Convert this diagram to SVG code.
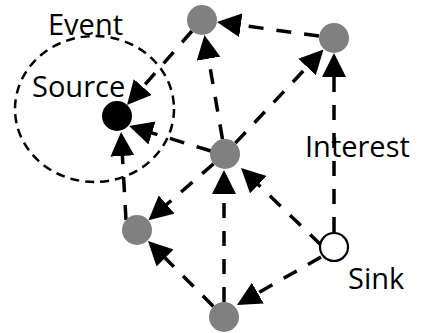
<svg xmlns="http://www.w3.org/2000/svg" width="425" height="333" viewBox="0 0 425 333">
  <style>
    .edge { fill: none; stroke: #000; stroke-width: 3.5; stroke-dasharray: 15 13; marker-end: url(#head); }
    .relay { fill: #808080; }
    .source { fill: #000; }
    .sink { fill: #fff; stroke: #000; stroke-width: 2.2; }
    .region { fill: none; stroke: #000; stroke-width: 2.5; stroke-dasharray: 9 6; }
    .label { font-family: "Open Sans", "Noto Sans", sans-serif; font-size: 29px; fill: #000; }
  </style>
  <defs>
    <marker id="head" viewBox="0 0 24 24" refX="2" refY="12" markerWidth="24" markerHeight="24" markerUnits="userSpaceOnUse" orient="auto">
      <path d="M0,0 L24,12 L0,24 Z" fill="#000"/>
    </marker>
  </defs>

  <!-- event region around the source -->
  <g id="event-region">
    <ellipse class="region" cx="94.5" cy="109" rx="79.5" ry="73"/>
    <text class="label" x="48" y="35">Event</text>
  </g>

  <!-- dashed connectors, arrowhead at the receiving node -->
  <g id="connectors">
    <line class="edge" x1="192" y1="31" x2="141.5" y2="88.5"/>
    <line class="edge" x1="319" y1="36" x2="238.8" y2="25"/>
    <line class="edge" x1="222.5" y1="139.2" x2="208.2" y2="56.7"/>
    <line class="edge" x1="235.3" y1="143.1" x2="308.4" y2="65.5"/>
    <line class="edge" x1="211" y1="151" x2="150.1" y2="132.4"/>
    <line class="edge" x1="334" y1="232" x2="334" y2="75"/>
    <line class="edge" x1="126" y1="220" x2="122.3" y2="154"/>
    <line class="edge" x1="213.6" y1="163.8" x2="165.1" y2="205.8"/>
    <line class="edge" x1="224" y1="302" x2="224" y2="192"/>
    <line class="edge" x1="321" y1="245" x2="256.9" y2="183.3"/>
    <line class="edge" x1="213.4" y1="306.4" x2="163.6" y2="256.6"/>
    <line class="edge" x1="321" y1="257" x2="256.1" y2="294.1"/>
    <text class="label" x="305" y="157">Interest</text>
  </g>

  <g id="node-source">
    <circle class="source" cx="117" cy="116" r="15"/>
    <text class="label" x="32" y="97">Source</text>
  </g>
  <g id="node-top">
    <circle class="relay" cx="202" cy="20" r="15"/>
  </g>
  <g id="node-right">
    <circle class="relay" cx="334" cy="38" r="15"/>
  </g>
  <g id="node-middle">
    <circle class="relay" cx="225" cy="154" r="15"/>
  </g>
  <g id="node-left">
    <circle class="relay" cx="137" cy="230" r="15"/>
  </g>
  <g id="node-bottom">
    <circle class="relay" cx="224" cy="317" r="15"/>
  </g>
  <g id="node-sink">
    <circle class="sink" cx="334" cy="247" r="14"/>
    <text class="label" x="348" y="289">Sink</text>
  </g>
</svg>
